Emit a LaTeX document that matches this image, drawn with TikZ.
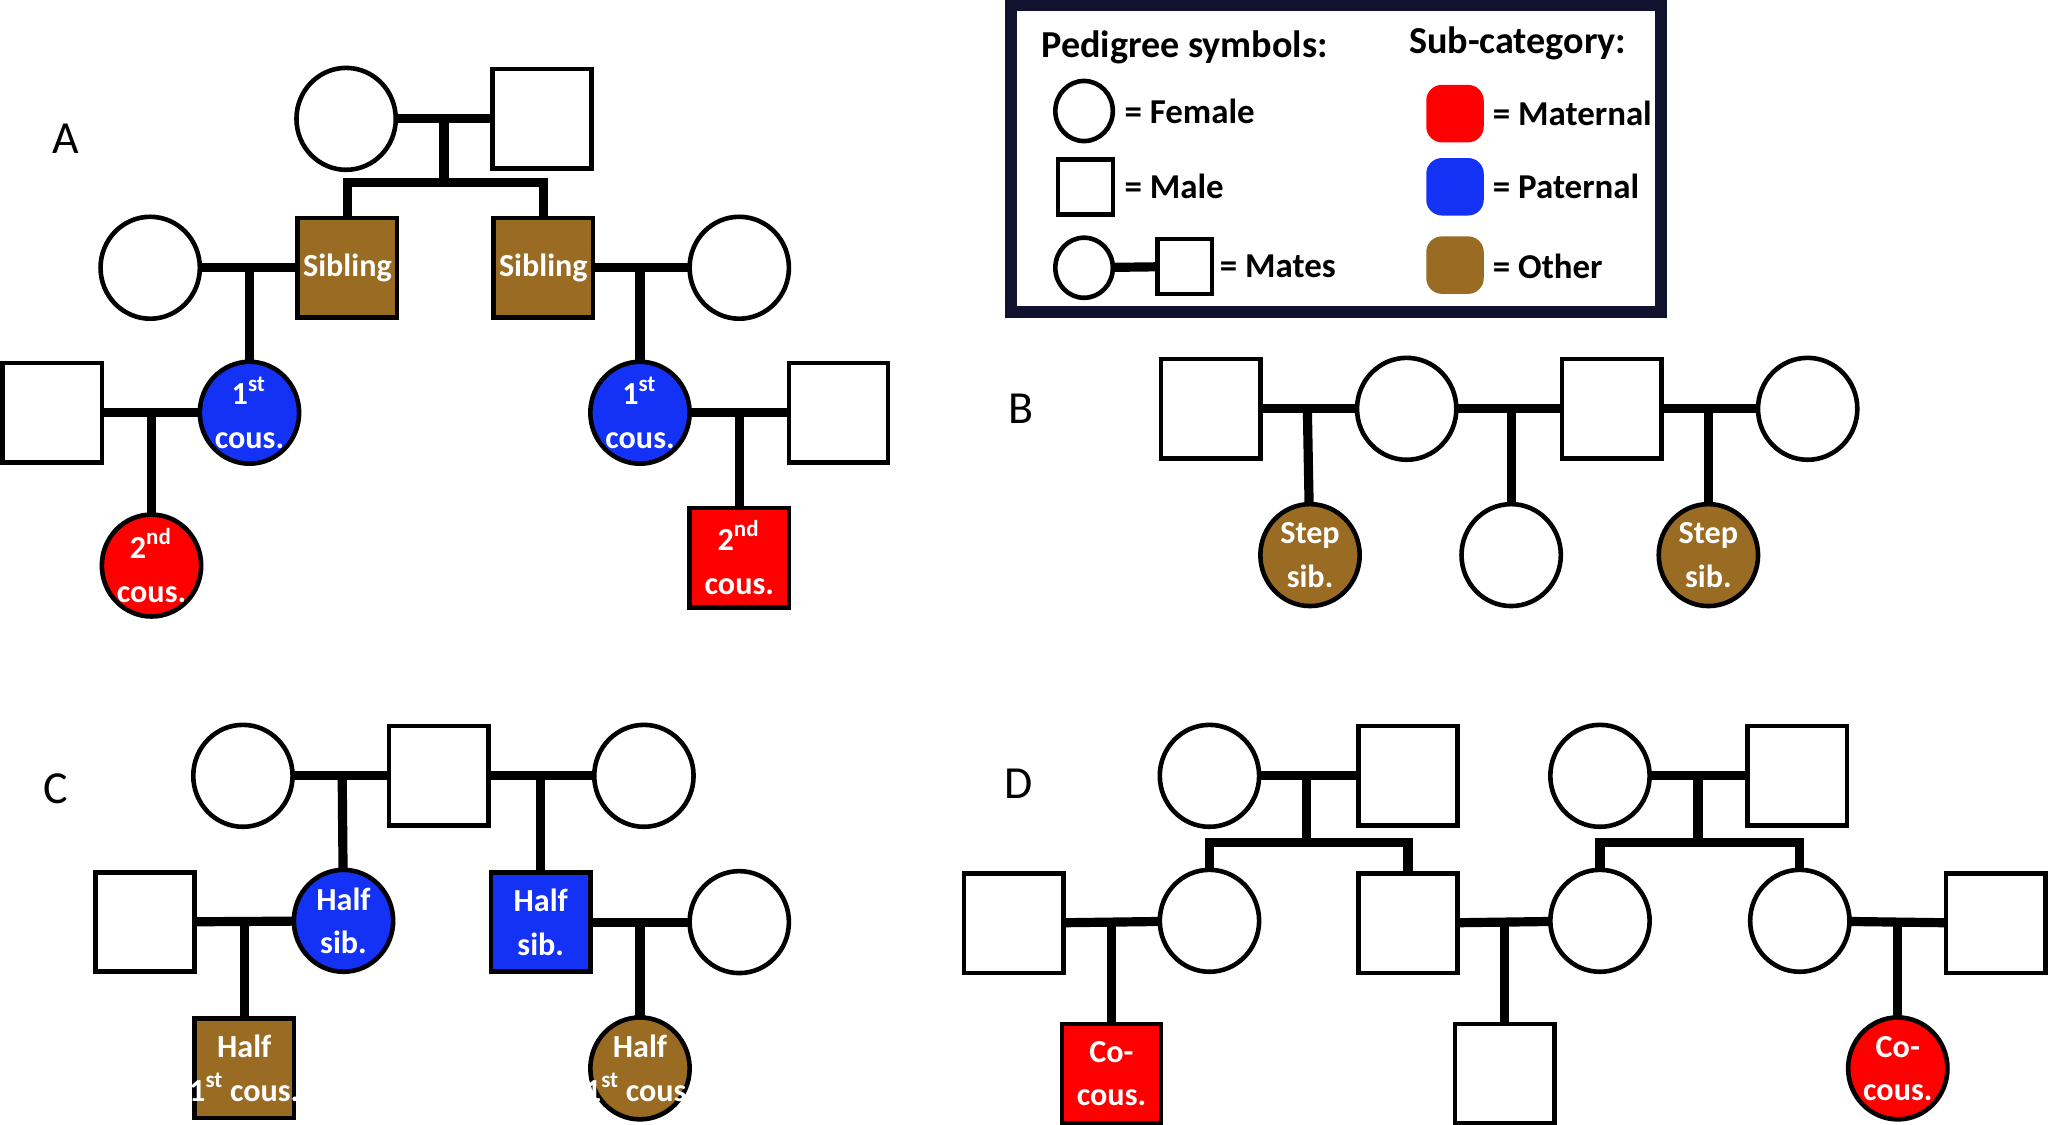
\documentclass[tikz,border=0pt]{standalone}
\usepackage{fontspec}
\setmainfont{Carlito}
\usetikzlibrary{shapes.geometric}
\definecolor{brn}{HTML}{9A6B22}
\definecolor{blu}{HTML}{1432F5}
\definecolor{rd}{HTML}{FF0000}
\definecolor{nav}{HTML}{10122E}
\begin{document}
\begin{tikzpicture}[x=0.01cm,y=-0.01cm,
 every node/.style={inner sep=0pt,outer sep=0pt},
 fem/.style={ellipse,draw,line width=1pt,minimum width=0.76cm,minimum height=0.78cm,fill=white},
 mal/.style={rectangle,draw,line width=1pt,minimum width=0.76cm,minimum height=0.76cm,fill=white},
 lab/.style={label={[text=white,font=\bfseries\fontsize{7}{9.5}\selectfont,align=center]center:#1}},
 con/.style={line width=2pt},
 pl/.style={font=\fontsize{10}{12}\selectfont},
 lt/.style={font=\bfseries\fontsize{7.6}{9}\selectfont,anchor=west},
 rr/.style={rectangle,rounded corners=0.12cm,minimum width=0.44cm,minimum height=0.44cm}]
\useasboundingbox (0,0) rectangle (1568,861);
% ---------- Panel A
\node[pl] (LA) at (50,106) {A};
\node[fem] (a0) at (265,91) {};
\node[mal] (a1) at (415,91) {};
\coordinate (am0) at (340,91);
\coordinate (as0) at (340,140);
\node[mal,fill=brn,lab={Sibling}] (s1) at (266,205) {};
\node[mal,fill=brn,lab={Sibling}] (s2) at (416,205) {};
\draw[con] (a0) -- (a1);
\draw[con] (am0) -- (as0);
\draw[con] (s1.north) |- (as0) -| (s2.north);
\node[fem] (f1) at (115,205) {};
\node[fem] (f2) at (566,205) {};
\draw[con] (f1) -- (s1);
\draw[con] (s2) -- (f2);
\coordinate (am1) at (191,205);
\coordinate (am2) at (490,205);
\node[fem,fill=blu,lab={1\textsuperscript{st}\\cous.}] (c1) at (191,316) {};
\node[fem,fill=blu,lab={1\textsuperscript{st}\\cous.}] (c2) at (490,316) {};
\draw[con] (am1) -- (c1);
\draw[con] (am2) -- (c2);
\node[mal] (m1) at (40,316) {};
\node[mal] (m2) at (642,316) {};
\draw[con] (m1) -- (c1);
\draw[con] (c2) -- (m2);
\coordinate (am3) at (116,316);
\coordinate (am4) at (566,316);
\node[fem,fill=rd,lab={2\textsuperscript{nd}\\cous.}] (d1) at (116,433) {};
\node[mal,fill=rd,lab={2\textsuperscript{nd}\\cous.}] (d2) at (566,427) {};
\draw[con] (am3) -- (d1);
\draw[con] (am4) -- (d2);
% ---------- Legend
\draw[line width=2.6pt,draw=nav] (774,4) rectangle (1272,239);
\node[font=\bfseries\fontsize{8.3}{10}\selectfont] (t1) at (907,36) {Pedigree symbols:};
\node[font=\bfseries\fontsize{8.3}{10}\selectfont] (t2) at (1162,33) {Sub-category:};
\node[fem,minimum width=0.44cm,minimum height=0.46cm] (lf) at (830,85) {};
\node[lt] (lft) at (861,85) {= Female};
\node[mal,minimum width=0.42cm,minimum height=0.42cm] (lm) at (831,143) {};
\node[lt] (lmt) at (861,143) {= Male};
\node[fem,minimum width=0.44cm,minimum height=0.46cm] (lf2) at (830,205) {};
\node[mal,minimum width=0.42cm,minimum height=0.42cm] (lm2) at (907,204) {};
\draw[con] (lf2) -- (lm2);
\node[lt] (lmat) at (934,204) {= Mates};
\node[rr,fill=rd] (r1) at (1114,87) {};
\node[lt] (r1t) at (1143,87) {= Maternal};
\node[rr,fill=blu] (r2) at (1114,143) {};
\node[lt] (r2t) at (1143,143) {= Paternal};
\node[rr,fill=brn] (r3) at (1114,203) {};
\node[lt] (r3t) at (1143,204) {= Other};
% ---------- Panel B
\node[pl] (LB) at (782,313) {B};
\node[mal] (b1) at (927,313) {};
\node[fem] (b2) at (1077,313) {};
\node[mal] (b3) at (1234,313) {};
\node[fem] (b4) at (1384,313) {};
\draw[con] (b1) -- (b2);
\draw[con] (b2) -- (b3);
\draw[con] (b3) -- (b4);
\coordinate (bm1) at (1001,316);
\coordinate (bm2) at (1157,316);
\coordinate (bm3) at (1308,316);
\node[fem,fill=brn,lab={Step\\sib.}] (bc1) at (1003,425) {};
\node[fem] (bc2) at (1157,425) {};
\node[fem,fill=brn,lab={Step\\sib.}] (bc3) at (1308,425) {};
\draw[con] (bm1) -- (bc1);
\draw[con] (bm2) -- (bc2);
\draw[con] (bm3) -- (bc3);
% ---------- Panel C
\node[pl] (LC) at (43,604) {C};
\node[fem] (e1) at (186,594) {};
\node[mal] (e2) at (336,594) {};
\node[fem] (e3) at (493,594) {};
\draw[con] (e1) -- (e2);
\draw[con] (e2) -- (e3);
\coordinate (cm1) at (262,594);
\coordinate (cm2) at (414,594);
\node[fem,fill=blu,lab={Half\\sib.}] (h1) at (263,705) {};
\node[mal,fill=blu,lab={Half\\sib.}] (h2) at (414,706) {};
\draw[con] (cm1) -- (h1);
\draw[con] (cm2) -- (h2);
\node[mal] (e4) at (111,706) {};
\node[fem] (e5) at (566,706) {};
\draw[con] (e4) -- (h1);
\draw[con] (h2) -- (e5);
\coordinate (cm3) at (187,706);
\coordinate (cm4) at (490,706);
\node[mal,fill=brn,lab={Half\\1\textsuperscript{st}\,cous.}] (g1) at (187,818) {};
\node[fem,fill=brn,lab={Half\\1\textsuperscript{st}\,cous.}] (g2) at (490,818) {};
\draw[con] (cm3) -- (g1);
\draw[con] (cm4) -- (g2);
% ---------- Panel D
\node[pl] (LD) at (780,600) {D};
\node[fem] (p1) at (926,594) {};
\node[mal] (p2) at (1078,594) {};
\node[fem] (p3) at (1225,594) {};
\node[mal] (p4) at (1376,594) {};
\draw[con] (p1) -- (p2);
\draw[con] (p3) -- (p4);
\coordinate (dm1) at (1000,594);
\coordinate (ds1) at (1000,645);
\coordinate (dm2) at (1300,594);
\coordinate (ds2) at (1300,645);
\node[fem] (q1) at (926,705) {};
\node[mal] (q2) at (1078,707) {};
\node[fem] (q3) at (1225,705) {};
\node[fem] (q4) at (1378,705) {};
\draw[con] (dm1) -- (ds1);
\draw[con] (dm2) -- (ds2);
\draw[con] (q1.north) |- (ds1) -| (q2.north);
\draw[con] (q3.north) |- (ds2) -| (q4.north);
\node[mal] (q0) at (776,707) {};
\node[mal] (q5) at (1528,707) {};
\draw[con] (q0) -- (q1);
\draw[con] (q2) -- (q3);
\draw[con] (q4) -- (q5);
\coordinate (dm3) at (851,707);
\coordinate (dm4) at (1152,707);
\coordinate (dm5) at (1453,707);
\node[mal,fill=rd,lab={Co-\\cous.}] (k1) at (851,822) {};
\node[mal] (k2) at (1152,822) {};
\node[fem,fill=rd,lab={Co-\\cous.}] (k3) at (1453,818) {};
\draw[con] (dm3) -- (k1);
\draw[con] (dm4) -- (k2);
\draw[con] (dm5) -- (k3);
\end{tikzpicture}
\end{document}
